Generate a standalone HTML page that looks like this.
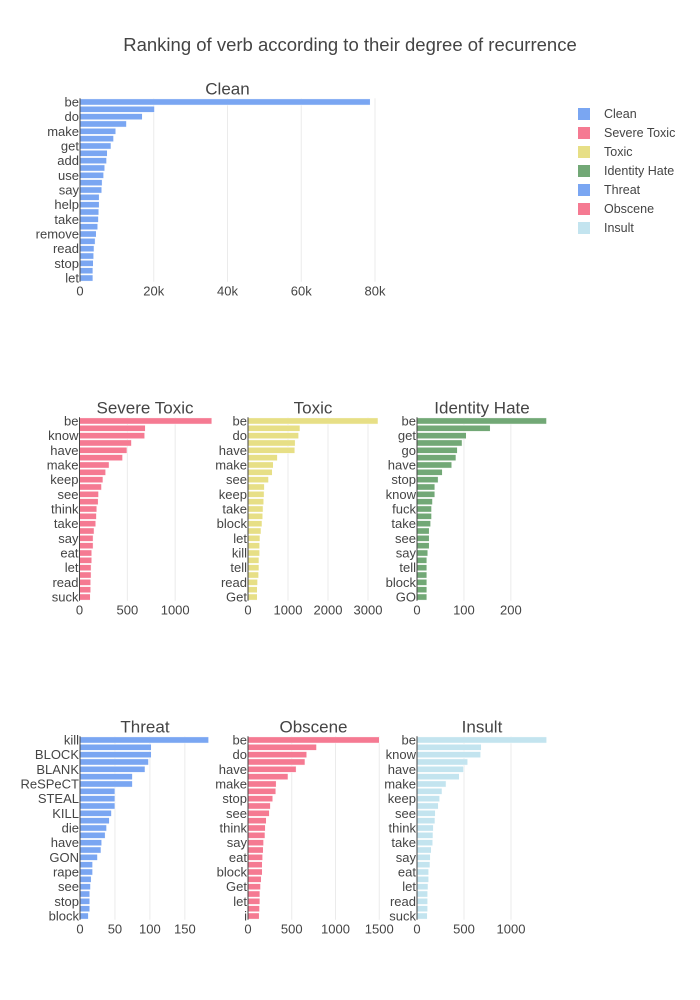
<!DOCTYPE html>
<html><head><meta charset="utf-8"><style>
body{margin:0;background:#fff;}
svg{display:block;font-family:"Liberation Sans",Arial,sans-serif;}
</style></head><body>
<svg id="chart" width="700" height="1000"></svg>
<script>
// ---- data ----
const cleanCats=["be","have","do","know","make","go","get","see","add","think","use","look","say","want","help","find","take","keep","remove","need","read","change","stop","put","let"];
const cleanVals=[78700,20200,16900,12600,9700,9100,8400,7400,7200,6700,6400,6000,5900,5200,5200,5100,5000,4800,4400,4100,3800,3700,3600,3500,3500];
const severeCats=["be","fuck","know","go","have","get","make","do","keep","die","see","hate","think","kill","take","tell","say","look","eat","give","let","want","read","shut","suck"];
const severeVals=[1383,688,681,543,496,450,309,273,245,230,199,195,181,177,170,152,142,142,128,128,121,121,117,117,113];
const toxicCats=["be","get","do","know","have","go","make","say","see","think","keep","stop","take","use","block","want","let","look","kill","give","tell","find","read","fuck","Get"];
const toxicVals=[3250,1299,1265,1179,1171,735,632,607,513,410,402,393,376,368,350,325,299,291,291,274,274,265,239,231,231];
const hateCats=["be","suck","get","kill","go","die","have","hate","stop","do","know","make","fuck","think","take","eat","see","look","say","want","tell","give","block","let","GO"];
const hateVals=[276,156,105,96,86,83,74,54,45,38,38,33,31,31,29,26,26,26,23,21,21,21,21,21,21];
const threatCats=["kill","be","BLOCK","go","BLANK","shoot","ReSPeCT","find","STEAL","get","KILL","hunt","die","know","have","burn","GON","hurt","rape","stab","see","beat","stop","make","block"];
const threatVals=[184,102,102,98,93,75,75,50,50,50,45,42,38,36,31,30,25,18,18,16,15,14,14,14,12];
const obsceneCats=["be","fuck","do","get","have","know","make","go","stop","suck","see","take","think","keep","say","tell","eat","kill","block","look","Get","want","let","give","i"];
const obsceneVals=[1500,783,671,651,550,457,322,318,283,256,244,209,198,194,178,174,167,163,163,151,143,136,136,132,128];
const insultCats=["be","fuck","know","go","have","get","make","do","keep","die","see","hate","think","kill","take","tell","say","look","eat","give","let","want","read","shut","suck"];
const insultVals=[1379,684,677,539,496,450,309,266,241,227,195,191,174,170,167,152,142,138,124,124,117,113,113,113,110];
const cleanTicks=[0,20000,40000,60000,80000];
const severeTicks=[0,500,1000];
const toxicTicks=[0,1000,2000,3000];
const hateTicks=[0,100,200];
const threatTicks=[0,50,100,150];
const obsceneTicks=[0,500,1000,1500];
const insultTicks=[0,500,1000];
const legendNames=["Clean","Severe Toxic","Toxic","Identity Hate","Threat","Obscene","Insult"];

const C={clean:"#7aa6f2",severe:"#f57a92",toxic:"#e7df86",hate:"#72a876",threat:"#7aa6f2",obscene:"#f57a92",insult:"#c3e4ef"};
const legendColors=[C.clean,C.severe,C.toxic,C.hate,C.threat,C.obscene,C.insult];

const svg=document.getElementById('chart');
const NS="http://www.w3.org/2000/svg";
function mk(tag,attrs,parent){const e=document.createElementNS(NS,tag);for(const k in attrs)e.setAttribute(k,attrs[k]);(parent||svg).appendChild(e);return e;}
function fmt(v){return v>=10000&&v%1000===0?(v/1000)+"k":String(v);}

const title=mk('text',{x:350,y:51,'text-anchor':'middle','font-size':18.5,fill:'#444'});
title.textContent="Ranking of verb according to their degree of recurrence";



function panel(name,label,cats,vals,ticks,color,x0,w,dmax,top,bottom){
  const g=mk('g',{});
  
  
  const xs=v=>x0+v/dmax*w;
  const band=(bottom-top)/cats.length;
  const ys=i=>top+band*(i+0.5);
  ticks.forEach(t=>{
    if(t>0){const gl=mk('line',{x1:xs(t),x2:xs(t),y1:top,y2:bottom,stroke:'#ebebeb','stroke-width':1},g);
      
      }
    const tl=mk('text',{x:xs(t),y:bottom+14,'text-anchor':'middle','font-size':13,fill:'#444'},g);
    tl.textContent=fmt(t);
    
    
  });
  vals.forEach((v,i)=>{
    const r=mk('rect',{x:x0,y:ys(i)-band*0.42,width:Math.max(0,xs(v)-x0),height:band*0.84,fill:color,stroke:'#fff','stroke-width':0.5},g);
    
    
    if(i%2===0){
      const t=mk('text',{x:x0-1,y:ys(i)+4.5,'text-anchor':'end','font-size':13,fill:'#444'},g);
      t.textContent=cats[i];
      
      
    }
  });
  const ax=mk('line',{x1:x0,x2:x0,y1:top,y2:bottom,stroke:'#444','stroke-width':1},g);
  
  
  const st=mk('text',{x:x0+w/2,y:top-4,'text-anchor':'middle','font-size':17,fill:'#444'},g);
  st.textContent=label;
  
  
}
panel('clean','Clean',cleanCats,cleanVals,cleanTicks,C.clean,80,295,80000,98.3,281.7);
panel('severe-toxic','Severe Toxic',severeCats,severeVals,severeTicks,C.severe,79.5,131,1369,417.3,600.7);
panel('toxic','Toxic',toxicCats,toxicVals,toxicTicks,C.toxic,248,130,3250,417.3,600.7);
panel('identity-hate','Identity Hate',hateCats,hateVals,hateTicks,C.hate,417,130,277,417.3,600.7);
panel('threat','Threat',threatCats,threatVals,threatTicks,C.threat,80,130,186,736.3,919.7);
panel('obscene','Obscene',obsceneCats,obsceneVals,obsceneTicks,C.obscene,248,131,1497,736.3,919.7);
panel('insult','Insult',insultCats,insultVals,insultTicks,C.insult,417,130,1383,736.3,919.7);

legendNames.forEach((n,i)=>{
  const y=114+i*19;
  const g=mk('g',{});
  
  
  mk('rect',{x:578,y:y-6,width:12,height:12,fill:legendColors[i]},g);
  const t=mk('text',{x:604,y:y+4,'font-size':12.5,fill:'#444'},g);
  t.textContent=n;
});
</script>
</body></html>
